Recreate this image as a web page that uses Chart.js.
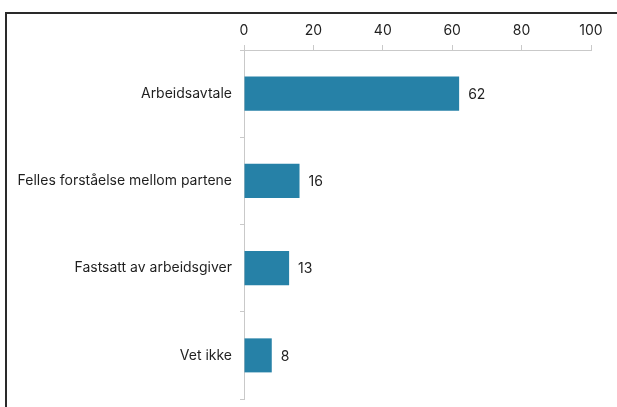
<!DOCTYPE html>
<html>
<head>
<meta charset="utf-8">
<script src="https://cdn.jsdelivr.net/npm/chart.js@4/dist/chart.umd.min.js"></script>
<style>
  html, body { margin: 0; padding: 0; background: #fff; }
  #wrap { position: relative; width: 617px; height: 407px; overflow: hidden; }
  #frame { position: absolute; left: 5px; top: 12px; width: 700px; height: 500px;
           border-left: 2px solid #2a2a2a; border-top: 2px solid #2a2a2a; box-sizing: border-box; pointer-events: none; }
  canvas { position: absolute; left: 0; top: 0; }
</style>
</head>
<body>
<div id="wrap">
  <canvas id="c" width="617" height="407"></canvas>
  <div id="frame"></div>
</div>
<script>
const categories = ['Arbeidsavtale', 'Felles forståelse mellom partene', 'Fastsatt av arbeidsgiver', 'Vet ikke'];
const values = [62, 16, 13, 8];
const tickValues = [0, 20, 40, 60, 80, 100];

const FONT = "Inter, 'Open Sans', sans-serif";
const TEXT = '#1f1f1f';
const AXIS = '#c9c9c9';

const valueLabels = {
  id: 'valueLabels',
  afterDatasetsDraw(chart) {
    const ctx = chart.ctx;
    const meta = chart.getDatasetMeta(0);
    ctx.save();
    ctx.font = '14px ' + FONT;
    ctx.fillStyle = TEXT;
    ctx.textAlign = 'left';
    ctx.textBaseline = 'middle';
    meta.data.forEach((bar, i) => {
      ctx.fillText(String(values[i]), bar.x + 9, bar.y + 1);
    });
    ctx.restore();
  }
};

new Chart(document.getElementById('c'), {
  type: 'bar',
  data: {
    labels: categories,
    datasets: [{
      data: values,
      backgroundColor: '#2681a7',
      borderWidth: 0,
      categoryPercentage: 0.39,
      barPercentage: 1.0
    }]
  },
  options: {
    indexAxis: 'y',
    responsive: false,
    animation: false,
    devicePixelRatio: 1,
    layout: { padding: { left: 0, right: 26, top: 20, bottom: 8 } },
    plugins: { legend: { display: false }, tooltip: { enabled: false } },
    scales: {
      x: {
        position: 'top',
        min: 0, max: 100,
        afterBuildTicks(scale) { scale.ticks = tickValues.map(v => ({ value: v })); },
        afterFit(scale) { scale.height = 30; scale.paddingLeft = 0; scale.paddingRight = 0; },
        grid: { drawOnChartArea: false, drawTicks: true, tickLength: 5, color: AXIS, lineWidth: 1 },
        border: { display: true, color: AXIS, width: 1 },
        ticks: { color: TEXT, font: { family: FONT, size: 14 }, padding: 6, maxRotation: 0 }
      },
      y: {
        afterFit(scale) { scale.width = 244; scale.paddingTop = 0; scale.paddingBottom = 0; },
        grid: { drawOnChartArea: false, drawTicks: true, tickLength: 4, color: AXIS, offset: true },
        border: { display: true, color: AXIS, width: 1 },
        ticks: { color: TEXT, font: { family: FONT, size: 14 }, padding: 8 }
      }
    }
  },
  plugins: [valueLabels]
});
</script>
</body>
</html>
